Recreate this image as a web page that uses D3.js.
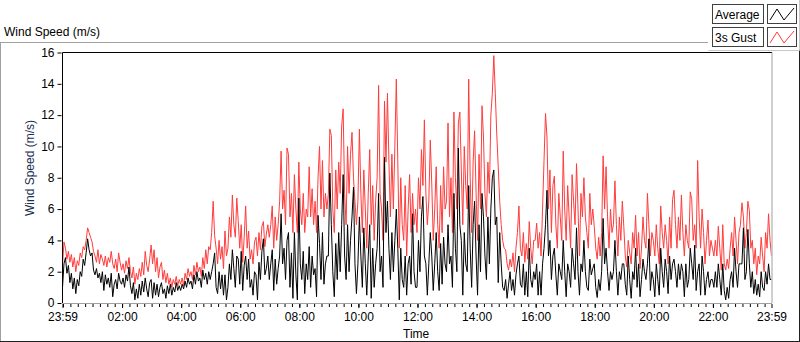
<!DOCTYPE html>
<html>
<head>
<meta charset="utf-8">
<script src="https://cdn.jsdelivr.net/npm/d3@7"></script>
<style>
  body { margin: 0; background: #fff; }
  svg { display: block; font-family: Tahoma, "Liberation Sans", sans-serif; }
</style>
</head>
<body>
<div id="chart"></div>
<script>
// samples every 3 minutes starting 23:59 (one row per hour)
const stepMinutes = 3;
const startTime = new Date(2020, 0, 1, 23, 59);

const gust = [
  2.4, 3.9, 3.5, 2.8, 3.3, 2.6, 3.1, 2.3, 2.9, 2.0, 2.7, 2.4, 3.2, 2.9, 3.6, 3.4, 4.0, 4.8, 4.5, 4.2,
  3.9, 3.3, 3.0, 2.6, 3.4, 2.5, 3.1, 2.8, 2.4, 3.0, 2.3, 2.9, 2.6, 3.3, 2.5, 2.2, 2.8, 2.0, 3.2, 2.6,
  2.1, 2.5, 1.9, 2.7, 2.2, 2.9, 2.0, 1.6, 2.3, 1.2, 1.9, 1.5, 2.2, 1.7, 2.6, 1.8, 3.3, 2.4, 2.0, 2.8,
  3.7, 2.5, 3.4, 2.0, 2.9, 1.6, 2.3, 2.6, 1.5, 2.1, 1.3, 1.9, 1.2, 1.6, 1.0, 1.5, 1.2, 1.7, 1.1, 1.5,
  1.2, 1.6, 1.1, 1.9, 1.5, 2.2, 1.7, 2.0, 1.5, 2.4, 1.8, 2.6, 2.0, 2.3, 1.7, 2.9, 2.2, 3.4, 2.5, 3.6,
  3.4, 4.5, 6.5, 4.3, 3.5, 2.5, 4.0, 2.8, 3.6, 2.2, 4.6, 3.0, 3.5, 5.5, 4.2, 6.9, 5.0, 4.2, 6.7, 5.2,
  3.5, 5.0, 2.6, 4.2, 6.2, 3.5, 4.6, 2.8, 3.4, 2.5, 3.9, 4.2, 3.0, 4.5, 3.4, 4.9, 5.2, 3.6, 4.4, 5.0,
  4.2, 5.0, 6.2, 3.5, 5.5, 4.0, 5.0, 6.5, 9.7, 6.0, 7.2, 5.0, 9.9, 9.5, 5.5, 7.0, 4.5, 8.2, 6.0, 4.5,
  9.0, 6.0, 5.0, 7.0, 4.5, 6.0, 5.5, 8.7, 5.5, 7.3, 5.0, 6.5, 4.5, 8.0, 10.0, 6.0, 9.1, 5.5, 7.0, 6.0,
  7.0, 11.1, 10.7, 6.0, 4.5, 8.5, 6.0, 9.0, 7.0, 11.3, 12.4, 7.0, 5.0, 10.0, 7.0, 9.5, 10.9, 8.0, 6.5, 5.0,
  6.5, 11.1, 7.0, 4.5, 8.5, 6.0, 3.5, 7.0, 9.8, 5.0, 7.5, 4.0, 6.5, 8.0, 13.9, 7.0, 6.0, 4.0, 12.9, 9.0,
  13.4, 9.0, 5.5, 9.5, 6.0, 10.0, 14.3, 9.0, 3.5, 8.0, 5.0, 4.0, 7.5, 3.0, 6.0, 8.2, 4.5, 7.0, 5.0, 6.0,
  4.5, 8.0, 6.0, 9.8, 7.5, 11.7, 7.0, 5.0, 6.5, 10.4, 7.6, 4.0, 6.0, 8.7, 5.0, 3.5, 7.5, 4.5, 8.7, 6.0,
  6.5, 11.5, 5.5, 8.0, 4.5, 12.2, 8.0, 6.0, 11.5, 12.2, 8.5, 5.0, 10.0, 7.5, 6.0, 14.3, 8.0, 4.5, 9.0, 11.0,
  7.0, 4.0, 9.5, 6.0, 12.6, 10.6, 7.0, 5.5, 9.0, 7.0, 12.0, 13.4, 15.8, 13.4, 10.8, 8.7, 6.5, 5.0, 4.0, 3.5,
  3.4, 2.5, 2.1, 2.8, 2.3, 3.2, 2.0, 3.5, 4.5, 6.2, 3.5, 3.0, 4.5, 2.6, 3.8, 2.8, 5.2, 3.5, 2.5, 4.0,
  4.0, 5.1, 3.5, 4.5, 3.0, 6.0, 9.1, 12.1, 10.6, 6.0, 8.5, 4.5, 7.5, 8.1, 5.0, 3.5, 7.0, 5.5, 4.0, 9.7,
  6.0, 4.0, 7.5, 5.5, 3.5, 8.2, 6.5, 5.0, 8.9, 6.0, 3.0, 7.0, 5.5, 8.0, 5.5, 4.5, 3.5, 7.0, 5.0, 6.0,
  4.9, 3.5, 2.8, 4.2, 3.0, 4.5, 9.4, 6.0, 8.7, 5.5, 3.5, 6.0, 4.5, 5.0, 7.8, 5.0, 3.0, 5.5, 4.0, 6.5,
  4.9, 3.0, 2.3, 4.0, 3.2, 2.5, 4.5, 3.5, 5.6, 3.0, 4.5, 2.2, 3.5, 5.5, 4.0, 3.5, 7.0, 5.0, 3.0, 4.5,
  4.0, 3.0, 5.0, 3.5, 2.5, 6.2, 4.5, 3.5, 5.0, 4.0, 2.5, 5.5, 3.5, 6.6, 7.2, 5.0, 3.5, 5.5, 4.0, 6.9,
  4.5, 3.0, 5.0, 4.0, 3.5, 7.1, 6.6, 4.0, 5.0, 3.5, 9.1, 5.5, 3.5, 6.0, 4.5, 2.5, 4.0, 5.3, 3.0, 4.0,
  3.5, 3.0, 4.0, 3.0, 4.9, 3.5, 2.1, 5.0, 2.5, 2.1, 2.8, 2.2, 3.5, 4.5, 3.0, 5.5, 4.0, 2.5, 4.5, 5.0,
  6.4, 5.5, 3.5, 4.5, 6.5, 5.9, 3.5, 4.0, 2.5, 3.5, 1.8, 3.0, 2.5, 4.2, 3.0, 2.0, 4.5, 3.5, 5.7, 4.0,
  3.0
];

const average = [
  1.0, 2.5, 2.9, 1.9, 2.4, 1.3, 1.9, 0.9, 1.6, 0.6, 1.5, 1.1, 2.0, 1.7, 2.8, 2.4, 3.2, 4.1, 3.4, 3.0,
  3.2, 2.1, 1.8, 2.2, 1.6, 1.9, 1.3, 2.0, 0.8, 1.8, 1.2, 1.6, 1.0, 1.9, 0.4, 1.2, 1.5, 0.9, 1.9, 1.4,
  1.2, 1.6, 1.0, 1.8, 1.4, 2.3, 1.1, 0.6, 1.3, 0.2, 0.9, 0.3, 1.2, 0.5, 1.4, 0.7, 1.6, 0.9, 0.4, 1.3,
  1.5, 0.3, 1.3, 0.5, 1.2, 0.4, 1.0, 1.3, 0.6, 0.9, 0.3, 1.1, 0.6, 1.2, 0.5, 1.0, 0.7, 1.3, 0.8, 1.1,
  0.8, 1.2, 0.9, 1.4, 1.0, 1.6, 1.2, 1.4, 0.9, 1.8, 1.2, 2.0, 1.4, 1.6, 1.0, 2.1, 1.5, 1.9, 1.2, 2.0,
  1.5, 2.0, 2.5, 3.2, 1.0, 0.6, 2.0, 0.9, 1.8, 0.5, 1.8, 0.2, 1.0, 2.5, 1.5, 3.4, 2.2, 1.0, 3.0, 2.8,
  1.2, 3.3, 0.8, 2.4, 3.0, 1.5, 2.8, 1.0, 1.5, 0.5, 2.0, 1.8, 0.2, 2.6, 1.5, 3.3, 4.1, 1.8, 2.2, 3.0,
  1.5, 2.5, 3.4, 0.8, 2.8, 1.2, 2.2, 3.0, 5.7, 2.5, 3.5, 1.5, 4.0, 4.5, 1.0, 3.2, 0.3, 4.5, 1.8, 0.2,
  6.7, 2.5, 1.5, 3.3, 0.6, 2.5, 1.5, 3.6, 1.0, 3.0, 1.8, 2.2, 0.4, 5.6, 3.8, 1.5, 4.5, 1.2, 2.5, 3.0,
  3.0, 8.3, 5.0, 2.0, 0.4, 3.8, 1.5, 4.5, 2.0, 5.0, 8.2, 3.0, 1.5, 5.0, 2.0, 4.0, 5.5, 7.4, 2.5, 0.6,
  2.5, 5.5, 3.0, 1.0, 4.8, 2.5, 0.5, 3.0, 5.0, 0.3, 3.5, 1.0, 2.5, 3.5, 7.0, 2.0, 3.0, 1.0, 9.3, 4.5,
  6.5, 3.5, 1.5, 4.5, 2.0, 4.0, 6.0, 3.5, 0.2, 3.5, 1.5, 1.0, 3.0, 0.5, 2.5, 3.0, 1.2, 5.7, 2.0, 1.0,
  1.0, 4.0, 2.0, 5.5, 6.8, 3.0, 2.5, 0.5, 2.5, 4.5, 3.0, 0.8, 2.5, 4.5, 2.0, 0.8, 3.8, 1.2, 4.2, 2.5,
  2.0, 5.0, 2.5, 3.0, 1.0, 7.0, 3.5, 2.0, 9.9, 5.0, 4.0, 0.5, 4.5, 2.5, 2.0, 7.5, 3.5, 1.0, 5.0, 6.5,
  3.0, 0.5, 5.0, 2.0, 7.0, 5.5, 3.0, 1.5, 5.5, 2.5, 6.0, 8.0, 8.5, 5.0, 5.5, 1.3, 4.5, 2.5, 1.0, 0.8,
  1.5, 0.3, 1.2, 2.0, 0.8, 1.5, 0.5, 1.8, 2.5, 3.0, 1.2, 1.0, 2.5, 0.5, 2.0, 0.4, 3.5, 1.5, 1.0, 2.0,
  1.5, 2.5, 0.5, 2.0, 0.5, 2.5, 3.5, 5.0, 7.2, 3.0, 4.0, 1.5, 3.0, 3.5, 1.8, 0.5, 2.5, 2.0, 1.5, 4.0,
  2.0, 0.4, 2.5, 2.0, 1.0, 3.5, 2.5, 1.5, 4.8, 2.0, 0.5, 2.5, 2.0, 4.0, 2.0, 1.0, 0.8, 2.8, 1.8, 2.2,
  2.5, 1.0, 0.35, 1.5, 0.8, 2.0, 5.4, 2.5, 3.5, 2.0, 0.8, 2.0, 1.5, 2.0, 4.0, 2.0, 0.5, 2.0, 1.5, 2.5,
  2.5, 1.2, 0.5, 3.0, 1.5, 0.3, 2.0, 1.5, 3.5, 1.0, 2.5, 0.4, 1.5, 2.8, 2.0, 1.5, 2.5, 4.1, 0.8, 2.0,
  1.5, 0.4, 2.5, 1.5, 0.5, 3.5, 2.0, 1.0, 2.8, 2.0, 0.6, 3.0, 1.5, 2.5, 2.8, 2.0, 1.0, 2.5, 1.5, 2.5,
  2.0, 0.4, 2.5, 1.0, 1.5, 3.5, 2.5, 1.5, 3.7, 0.8, 2.0, 2.5, 0.5, 3.0, 2.0, 0.5, 1.5, 2.0, 1.0, 1.5,
  1.5, 1.0, 2.0, 1.0, 2.5, 1.5, 0.5, 2.5, 0.8, 0.2, 1.0, 0.3, 1.5, 2.0, 1.0, 3.5, 2.0, 1.0, 2.5, 2.5,
  2.5, 4.8, 1.5, 2.0, 4.7, 2.5, 1.0, 2.0, 0.6, 1.5, 0.5, 1.2, 0.4, 2.0, 1.0, 0.8, 2.0, 1.2, 2.5, 1.5,
  1.5
];

const yTicks = [0, 2, 4, 6, 8, 10, 12, 14, 16];
const xTickLabels = ['23:59', '02:00', '04:00', '06:00', '08:00', '10:00',
  '12:00', '14:00', '16:00', '18:00', '20:00', '22:00', '23:59'];
const seriesNames = ['Average', '3s Gust'];
const seriesColors = ['#000000', '#ff3c3c'];

const width = 800, height = 342;
const plot = { left: 62.5, right: 771.5, top: 52.5, bottom: 303 };
const fontFamily = 'Tahoma, "Liberation Sans", sans-serif';

const svg = d3.select('#chart').append('svg')
  .attr('width', width)
  .attr('height', height);

const endTime = d3.timeMinute.offset(startTime, 24 * 60);
const x = d3.scaleTime().domain([startTime, endTime]).range([plot.left, plot.right]);
const y = d3.scaleLinear().domain([0, 16]).range([plot.bottom, plot.top]);

const timeOf = (i) => d3.timeMinute.offset(startTime, i * stepMinutes);

// outer frame of the graph
svg.append('line').attr('x1', 0).attr('x2', 708).attr('y1', 42.5).attr('y2', 42.5)
  .attr('stroke', '#a0a0a0');
svg.append('line').attr('x1', 0.5).attr('x2', 0.5).attr('y1', 42).attr('y2', 341)
  .attr('stroke', '#a0a0a0');
svg.append('line').attr('x1', 0).attr('x2', 800).attr('y1', 341.5).attr('y2', 341.5)
  .attr('stroke', '#202020');
svg.append('line').attr('x1', 799.5).attr('x2', 799.5).attr('y1', 50).attr('y2', 342)
  .attr('stroke', '#202020');

svg.append('text')
  .attr('x', 4).attr('y', 36)
  .attr('font-size', 12)
  .attr('fill', '#000')
  .text('Wind Speed (m/s)');

// plot lines
const line = d3.line()
  .x((d, i) => x(timeOf(i)))
  .y((d) => y(d));

svg.append('clipPath').attr('id', 'plotClip')
  .append('rect')
  .attr('x', plot.left).attr('y', plot.top)
  .attr('width', plot.right - plot.left).attr('height', plot.bottom - plot.top);

const lines = svg.append('g').attr('clip-path', 'url(#plotClip)');
lines.append('path')
  .attr('d', line(gust))
  .attr('fill', 'none')
  .attr('stroke', seriesColors[1])
  .attr('stroke-width', 1);
lines.append('path')
  .attr('d', line(average))
  .attr('fill', 'none')
  .attr('stroke', seriesColors[0])
  .attr('stroke-width', 1);

// plot frame: dark top/left, light bottom/right
svg.append('line').attr('x1', plot.left).attr('x2', plot.right + 0.5)
  .attr('y1', plot.top).attr('y2', plot.top).attr('stroke', '#000');
svg.append('line').attr('x1', plot.left).attr('x2', plot.left)
  .attr('y1', plot.top).attr('y2', plot.bottom).attr('stroke', '#000');
svg.append('line').attr('x1', plot.left).attr('x2', plot.right + 0.5)
  .attr('y1', plot.bottom + 0.5).attr('y2', plot.bottom + 0.5).attr('stroke', '#a0a0a0');
svg.append('line').attr('x1', plot.right + 0.5).attr('x2', plot.right + 0.5)
  .attr('y1', plot.top).attr('y2', plot.bottom).attr('stroke', '#a0a0a0');

// Y axis
const yAxis = svg.append('g')
  .attr('transform', `translate(${plot.left - 1},0)`)
  .call(d3.axisLeft(y).tickValues(yTicks).tickSize(4).tickPadding(3));
yAxis.select('.domain').remove();
yAxis.selectAll('text').attr('font-size', 12).attr('font-family', fontFamily)
  .attr('fill', '#000');

// X axis: minor ticks every 15 minutes, major labelled ticks
const minorTimes = d3.timeMinute.every(15).range(d3.timeMinute.offset(startTime, 1), endTime);
const xMinor = svg.append('g')
  .attr('transform', `translate(0,${plot.bottom + 1})`)
  .call(d3.axisBottom(x).tickValues(minorTimes).tickSize(3).tickFormat(''));
xMinor.select('.domain').remove();

const majorTimes = [startTime]
  .concat(d3.range(2, 24, 2).map((h) => new Date(2020, 0, 2, h, 0)))
  .concat([endTime]);
const xMajor = svg.append('g')
  .attr('transform', `translate(0,${plot.bottom + 1})`)
  .call(d3.axisBottom(x).tickValues(majorTimes).tickSize(4).tickPadding(4)
    .tickFormat((d, i) => xTickLabels[i]));
xMajor.select('.domain').remove();
xMajor.selectAll('text').attr('font-size', 12).attr('font-family', fontFamily)
  .attr('fill', '#000');

// axis titles
svg.append('text')
  .attr('x', 403).attr('y', 338)
  .attr('font-size', 12)
  .attr('fill', '#000')
  .text('Time');

svg.append('text')
  .attr('transform', 'translate(34,168) rotate(-90)')
  .attr('text-anchor', 'middle')
  .attr('font-size', 12)
  .attr('fill', '#1b2f4f')
  .text('Wind Speed (m/s)');

// legend
const legend = svg.append('g');
legend.append('path')
  .attr('d', 'M708.5,50.5 H799.5 V0')
  .attr('fill', 'none').attr('stroke', '#c8c8c8');

const iconLine = d3.line();
seriesNames.forEach((name, i) => {
  const top = 4 + i * 23;
  const g = legend.append('g').attr('transform', `translate(712,${top})`);
  g.append('rect')
    .attr('x', 0.5).attr('y', 0.5).attr('width', 51).attr('height', 19)
    .attr('fill', '#fff').attr('stroke', '#404040');
  g.append('text')
    .attr('x', 3).attr('y', 15)
    .attr('font-size', 12)
    .attr('fill', '#000')
    .text(name);
  g.append('rect')
    .attr('x', 55.5).attr('y', 0.5).attr('width', 29).attr('height', 19)
    .attr('fill', '#fff').attr('stroke', '#404040');
  g.append('path')
    .attr('d', iconLine([[58, 16], [65, 5], [72, 16], [82, 4]]))
    .attr('fill', 'none')
    .attr('stroke', seriesColors[i])
    .attr('stroke-width', 1);
});
</script>
</body>
</html>
